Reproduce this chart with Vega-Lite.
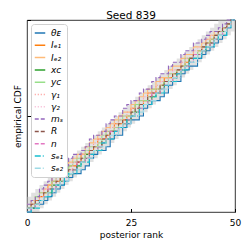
{
"$schema":"https://vega.github.io/schema/vega-lite/v6.json",
"width":208,"height":192,
"autosize":{"type":"none"},
"padding":{"left":27,"top":20,"right":14,"bottom":37},
"title":{"text":"Seed 839","fontSize":10.5,"fontWeight":"normal","font":"DejaVu Sans","color":"black","offset":-4},
"config":{"view":{"stroke":"black","strokeWidth":0.8},"font":"DejaVu Sans"},
"data":{"values":[
{"r":0,"θᴇ":0,"Iₑ₁":2,"Iₑ₂":2,"xᴄ":2,"yᴄ":2,"γ₁":4,"γ₂":2,"mₛ":4,"R":2,"n":0,"sₑ₁":0,"sₑ₂":2,"lo":0,"hi":8},
{"r":1,"θᴇ":2,"Iₑ₁":4,"Iₑ₂":6,"xᴄ":2,"yᴄ":4,"γ₁":4,"γ₂":4,"mₛ":6,"R":4,"n":2,"sₑ₁":2,"sₑ₂":2,"lo":0,"hi":10},
{"r":2,"θᴇ":4,"Iₑ₁":6,"Iₑ₂":8,"xᴄ":4,"yᴄ":8,"γ₁":6,"γ₂":6,"mₛ":8,"R":6,"n":4,"sₑ₁":2,"sₑ₂":4,"lo":0,"hi":12},
{"r":3,"θᴇ":4,"Iₑ₁":8,"Iₑ₂":10,"xᴄ":6,"yᴄ":10,"γ₁":10,"γ₂":8,"mₛ":12,"R":6,"n":6,"sₑ₁":6,"sₑ₂":6,"lo":2,"hi":14},
{"r":4,"θᴇ":6,"Iₑ₁":10,"Iₑ₂":12,"xᴄ":8,"yᴄ":10,"γ₁":12,"γ₂":12,"mₛ":14,"R":10,"n":8,"sₑ₁":8,"sₑ₂":8,"lo":4,"hi":16},
{"r":5,"θᴇ":8,"Iₑ₁":14,"Iₑ₂":14,"xᴄ":10,"yᴄ":12,"γ₁":12,"γ₂":12,"mₛ":16,"R":12,"n":12,"sₑ₁":8,"sₑ₂":10,"lo":6,"hi":18},
{"r":6,"θᴇ":10,"Iₑ₁":16,"Iₑ₂":18,"xᴄ":14,"yᴄ":16,"γ₁":16,"γ₂":14,"mₛ":18,"R":12,"n":12,"sₑ₁":12,"sₑ₂":10,"lo":8,"hi":20},
{"r":7,"θᴇ":12,"Iₑ₁":16,"Iₑ₂":20,"xᴄ":14,"yᴄ":18,"γ₁":18,"γ₂":18,"mₛ":20,"R":16,"n":14,"sₑ₁":14,"sₑ₂":14,"lo":10,"hi":22},
{"r":8,"θᴇ":14,"Iₑ₁":18,"Iₑ₂":20,"xᴄ":16,"yᴄ":18,"γ₁":20,"γ₂":20,"mₛ":22,"R":18,"n":16,"sₑ₁":14,"sₑ₂":16,"lo":12,"hi":24},
{"r":9,"θᴇ":16,"Iₑ₁":22,"Iₑ₂":24,"xᴄ":18,"yᴄ":20,"γ₁":22,"γ₂":20,"mₛ":24,"R":20,"n":18,"sₑ₁":18,"sₑ₂":16,"lo":14,"hi":26},
{"r":10,"θᴇ":18,"Iₑ₁":24,"Iₑ₂":26,"xᴄ":20,"yᴄ":24,"γ₁":22,"γ₂":22,"mₛ":28,"R":22,"n":20,"sₑ₁":20,"sₑ₂":20,"lo":16,"hi":28},
{"r":11,"θᴇ":20,"Iₑ₁":24,"Iₑ₂":28,"xᴄ":22,"yᴄ":26,"γ₁":26,"γ₂":26,"mₛ":30,"R":22,"n":22,"sₑ₁":20,"sₑ₂":22,"lo":18,"hi":30},
{"r":12,"θᴇ":20,"Iₑ₁":26,"Iₑ₂":30,"xᴄ":24,"yᴄ":28,"γ₁":28,"γ₂":26,"mₛ":30,"R":26,"n":26,"sₑ₁":24,"sₑ₂":22,"lo":20,"hi":32},
{"r":13,"θᴇ":22,"Iₑ₁":30,"Iₑ₂":30,"xᴄ":26,"yᴄ":28,"γ₁":30,"γ₂":28,"mₛ":32,"R":28,"n":26,"sₑ₁":26,"sₑ₂":26,"lo":22,"hi":34},
{"r":14,"θᴇ":24,"Iₑ₁":30,"Iₑ₂":34,"xᴄ":30,"yᴄ":32,"γ₁":30,"γ₂":32,"mₛ":34,"R":28,"n":28,"sₑ₁":26,"sₑ₂":28,"lo":24,"hi":36},
{"r":15,"θᴇ":28,"Iₑ₁":32,"Iₑ₂":36,"xᴄ":30,"yᴄ":34,"γ₁":34,"γ₂":32,"mₛ":38,"R":32,"n":30,"sₑ₁":30,"sₑ₂":28,"lo":26,"hi":38},
{"r":16,"θᴇ":30,"Iₑ₁":34,"Iₑ₂":38,"xᴄ":32,"yᴄ":34,"γ₁":36,"γ₂":34,"mₛ":40,"R":34,"n":32,"sₑ₁":32,"sₑ₂":32,"lo":28,"hi":40},
{"r":17,"θᴇ":32,"Iₑ₁":38,"Iₑ₂":40,"xᴄ":34,"yᴄ":36,"γ₁":38,"γ₂":38,"mₛ":40,"R":34,"n":34,"sₑ₁":32,"sₑ₂":34,"lo":30,"hi":42},
{"r":18,"θᴇ":32,"Iₑ₁":38,"Iₑ₂":42,"xᴄ":36,"yᴄ":40,"γ₁":38,"γ₂":40,"mₛ":42,"R":38,"n":36,"sₑ₁":36,"sₑ₂":34,"lo":32,"hi":44},
{"r":19,"θᴇ":34,"Iₑ₁":40,"Iₑ₂":44,"xᴄ":38,"yᴄ":42,"γ₁":42,"γ₂":40,"mₛ":46,"R":40,"n":38,"sₑ₁":38,"sₑ₂":38,"lo":34,"hi":46},
{"r":20,"θᴇ":38,"Iₑ₁":42,"Iₑ₂":46,"xᴄ":42,"yᴄ":42,"γ₁":44,"γ₂":42,"mₛ":48,"R":42,"n":42,"sₑ₁":38,"sₑ₂":40,"lo":36,"hi":48},
{"r":21,"θᴇ":40,"Iₑ₁":46,"Iₑ₂":48,"xᴄ":42,"yᴄ":44,"γ₁":44,"γ₂":46,"mₛ":50,"R":42,"n":42,"sₑ₁":42,"sₑ₂":40,"lo":38,"hi":50},
{"r":22,"θᴇ":40,"Iₑ₁":46,"Iₑ₂":50,"xᴄ":44,"yᴄ":48,"γ₁":48,"γ₂":48,"mₛ":50,"R":46,"n":44,"sₑ₁":44,"sₑ₂":44,"lo":40,"hi":52},
{"r":23,"θᴇ":44,"Iₑ₁":48,"Iₑ₂":52,"xᴄ":46,"yᴄ":50,"γ₁":50,"γ₂":48,"mₛ":54,"R":48,"n":46,"sₑ₁":44,"sₑ₂":46,"lo":42,"hi":54},
{"r":24,"θᴇ":46,"Iₑ₁":50,"Iₑ₂":52,"xᴄ":48,"yᴄ":50,"γ₁":52,"γ₂":50,"mₛ":56,"R":48,"n":48,"sₑ₁":48,"sₑ₂":46,"lo":44,"hi":56},
{"r":25,"θᴇ":48,"Iₑ₁":54,"Iₑ₂":56,"xᴄ":50,"yᴄ":52,"γ₁":54,"γ₂":54,"mₛ":58,"R":52,"n":50,"sₑ₁":50,"sₑ₂":50,"lo":46,"hi":58},
{"r":26,"θᴇ":48,"Iₑ₁":56,"Iₑ₂":58,"xᴄ":52,"yᴄ":56,"γ₁":54,"γ₂":54,"mₛ":58,"R":54,"n":52,"sₑ₁":50,"sₑ₂":52,"lo":48,"hi":60},
{"r":27,"θᴇ":50,"Iₑ₁":56,"Iₑ₂":60,"xᴄ":56,"yᴄ":58,"γ₁":58,"γ₂":56,"mₛ":62,"R":56,"n":54,"sₑ₁":54,"sₑ₂":52,"lo":50,"hi":62},
{"r":28,"θᴇ":54,"Iₑ₁":58,"Iₑ₂":62,"xᴄ":56,"yᴄ":58,"γ₁":60,"γ₂":60,"mₛ":64,"R":56,"n":56,"sₑ₁":56,"sₑ₂":56,"lo":52,"hi":64},
{"r":29,"θᴇ":56,"Iₑ₁":62,"Iₑ₂":64,"xᴄ":58,"yᴄ":60,"γ₁":60,"γ₂":62,"mₛ":64,"R":60,"n":58,"sₑ₁":56,"sₑ₂":58,"lo":54,"hi":66},
{"r":30,"θᴇ":58,"Iₑ₁":62,"Iₑ₂":64,"xᴄ":60,"yᴄ":64,"γ₁":64,"γ₂":62,"mₛ":68,"R":62,"n":62,"sₑ₁":60,"sₑ₂":58,"lo":56,"hi":68},
{"r":31,"θᴇ":58,"Iₑ₁":64,"Iₑ₂":68,"xᴄ":62,"yᴄ":64,"γ₁":66,"γ₂":64,"mₛ":70,"R":62,"n":62,"sₑ₁":62,"sₑ₂":62,"lo":58,"hi":70},
{"r":32,"θᴇ":60,"Iₑ₁":66,"Iₑ₂":70,"xᴄ":64,"yᴄ":66,"γ₁":68,"γ₂":68,"mₛ":72,"R":66,"n":64,"sₑ₁":62,"sₑ₂":64,"lo":60,"hi":72},
{"r":33,"θᴇ":62,"Iₑ₁":70,"Iₑ₂":70,"xᴄ":68,"yᴄ":68,"γ₁":68,"γ₂":68,"mₛ":72,"R":68,"n":66,"sₑ₁":66,"sₑ₂":64,"lo":62,"hi":74},
{"r":34,"θᴇ":66,"Iₑ₁":70,"Iₑ₂":74,"xᴄ":68,"yᴄ":72,"γ₁":72,"γ₂":70,"mₛ":76,"R":68,"n":68,"sₑ₁":68,"sₑ₂":68,"lo":64,"hi":76},
{"r":35,"θᴇ":68,"Iₑ₁":72,"Iₑ₂":76,"xᴄ":70,"yᴄ":72,"γ₁":74,"γ₂":74,"mₛ":78,"R":72,"n":70,"sₑ₁":68,"sₑ₂":70,"lo":66,"hi":78},
{"r":36,"θᴇ":68,"Iₑ₁":74,"Iₑ₂":76,"xᴄ":72,"yᴄ":74,"γ₁":74,"γ₂":74,"mₛ":78,"R":74,"n":72,"sₑ₁":72,"sₑ₂":70,"lo":68,"hi":80},
{"r":37,"θᴇ":72,"Iₑ₁":76,"Iₑ₂":80,"xᴄ":74,"yᴄ":76,"γ₁":78,"γ₂":76,"mₛ":82,"R":76,"n":74,"sₑ₁":74,"sₑ₂":74,"lo":70,"hi":82},
{"r":38,"θᴇ":74,"Iₑ₁":78,"Iₑ₂":82,"xᴄ":76,"yᴄ":80,"γ₁":80,"γ₂":80,"mₛ":84,"R":76,"n":76,"sₑ₁":74,"sₑ₂":76,"lo":72,"hi":84},
{"r":39,"θᴇ":76,"Iₑ₁":80,"Iₑ₂":82,"xᴄ":80,"yᴄ":80,"γ₁":80,"γ₂":80,"mₛ":84,"R":80,"n":78,"sₑ₁":78,"sₑ₂":78,"lo":74,"hi":86},
{"r":40,"θᴇ":76,"Iₑ₁":82,"Iₑ₂":86,"xᴄ":80,"yᴄ":82,"γ₁":84,"γ₂":82,"mₛ":88,"R":82,"n":82,"sₑ₁":80,"sₑ₂":78,"lo":76,"hi":88},
{"r":41,"θᴇ":80,"Iₑ₁":84,"Iₑ₂":86,"xᴄ":82,"yᴄ":84,"γ₁":84,"γ₂":86,"mₛ":88,"R":82,"n":82,"sₑ₁":80,"sₑ₂":82,"lo":78,"hi":90},
{"r":42,"θᴇ":82,"Iₑ₁":86,"Iₑ₂":88,"xᴄ":84,"yᴄ":86,"γ₁":86,"γ₂":86,"mₛ":90,"R":86,"n":84,"sₑ₁":84,"sₑ₂":84,"lo":80,"hi":92},
{"r":43,"θᴇ":84,"Iₑ₁":88,"Iₑ₂":90,"xᴄ":86,"yᴄ":88,"γ₁":90,"γ₂":88,"mₛ":92,"R":88,"n":86,"sₑ₁":86,"sₑ₂":86,"lo":82,"hi":94},
{"r":44,"θᴇ":86,"Iₑ₁":90,"Iₑ₂":92,"xᴄ":88,"yᴄ":90,"γ₁":90,"γ₂":92,"mₛ":94,"R":88,"n":88,"sₑ₁":86,"sₑ₂":86,"lo":84,"hi":96},
{"r":45,"θᴇ":88,"Iₑ₁":92,"Iₑ₂":94,"xᴄ":90,"yᴄ":92,"γ₁":92,"γ₂":92,"mₛ":94,"R":92,"n":90,"sₑ₁":90,"sₑ₂":90,"lo":86,"hi":98},
{"r":46,"θᴇ":90,"Iₑ₁":94,"Iₑ₂":94,"xᴄ":92,"yᴄ":94,"γ₁":94,"γ₂":94,"mₛ":96,"R":94,"n":92,"sₑ₁":92,"sₑ₂":92,"lo":88,"hi":100},
{"r":47,"θᴇ":92,"Iₑ₁":96,"Iₑ₂":96,"xᴄ":94,"yᴄ":96,"γ₁":96,"γ₂":96,"mₛ":98,"R":96,"n":94,"sₑ₁":92,"sₑ₂":94,"lo":90,"hi":100},
{"r":48,"θᴇ":96,"Iₑ₁":98,"Iₑ₂":98,"xᴄ":98,"yᴄ":98,"γ₁":98,"γ₂":98,"mₛ":100,"R":98,"n":96,"sₑ₁":96,"sₑ₂":96,"lo":92,"hi":100},
{"r":49,"θᴇ":100,"Iₑ₁":100,"Iₑ₂":100,"xᴄ":100,"yᴄ":100,"γ₁":100,"γ₂":100,"mₛ":100,"R":100,"n":100,"sₑ₁":100,"sₑ₂":100,"lo":94,"hi":100},
{"r":50,"θᴇ":100,"Iₑ₁":100,"Iₑ₂":100,"xᴄ":100,"yᴄ":100,"γ₁":100,"γ₂":100,"mₛ":100,"R":100,"n":100,"sₑ₁":100,"sₑ₂":100,"lo":96,"hi":100}
]},
"layer":[
{"mark":{"type":"area","interpolate":"step-after","color":"#bdbdbd","opacity":0.45},
 "encoding":{
  "x":{"field":"r","type":"quantitative","scale":{"domain":[0,50],"nice":false},
       "axis":{"values":[0,25,50],"title":"posterior rank","grid":false,"domain":false,"tickSize":-3.5,"tickColor":"black","labelPadding":10,"labelFontSize":9,"labelColor":"black","titleFontSize":9,"titleFontWeight":"normal","titleColor":"black","titlePadding":3,"labelFlush":false}},
  "y":{"field":"lo","type":"quantitative","scale":{"domain":[0,100],"nice":false},
       "axis":{"values":[0,50,100],"labels":false,"title":"empirical CDF","grid":false,"domain":false,"tickSize":-3.5,"tickColor":"black","titleFontSize":9,"titleFontWeight":"normal","titleColor":"black","titlePadding":4}},
  "y2":{"field":"hi"}}},
{"transform":[{"fold":["θᴇ","Iₑ₁","Iₑ₂","xᴄ","yᴄ","γ₁","γ₂","mₛ","R","n","sₑ₁","sₑ₂"],"as":["param","cdf"]}],
 "mark":{"type":"line","interpolate":"step-after","strokeWidth":1.1},
 "encoding":{
  "x":{"field":"r","type":"quantitative"},
  "y":{"field":"cdf","type":"quantitative"},
  "color":{"field":"param","type":"nominal",
    "scale":{"domain":["θᴇ","Iₑ₁","Iₑ₂","xᴄ","yᴄ","γ₁","γ₂","mₛ","R","n","sₑ₁","sₑ₂"],
             "range":["#1f77b4","#ff7f0e","#ffbb78","#2ca02c","#98df8a","#ff9896","#f7b6d2","#9467bd","#8c564b","#e377c2","#17becf","#9edae5"]},
    "legend":{"title":null,"orient":"none","legendX":4,"legendY":4,"fillColor":"white","strokeColor":"#d0d0d0","cornerRadius":3,"padding":3,"symbolType":"stroke","symbolSize":110,"symbolStrokeWidth":1.5,"labelFontSize":9,"labelFontStyle":"italic","labelColor":"black","rowPadding":1.3,"labelOffset":5}},
  "strokeDash":{"field":"param","type":"nominal",
    "scale":{"domain":["θᴇ","Iₑ₁","Iₑ₂","xᴄ","yᴄ","γ₁","γ₂","mₛ","R","n","sₑ₁","sₑ₂"],
             "range":[[1,0],[1,0],[1,0],[1,0],[1,0],[1,2],[1,2],[4,2],[4,2],[4,2],[6,2,1,2],[6,2,1,2]]},
    "legend":{"title":null,"orient":"none","legendX":4,"legendY":4}},
  "order":{"field":"r","type":"quantitative"}}}
]
}
